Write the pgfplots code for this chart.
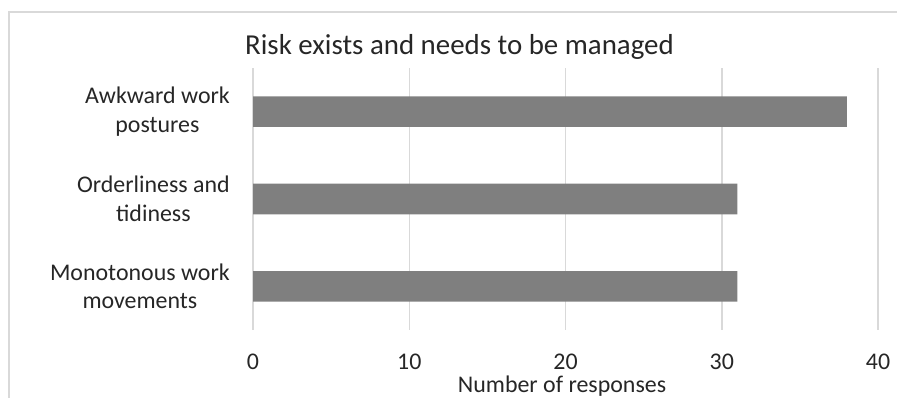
\documentclass[border=0pt]{standalone}
\usepackage{pgfplots}
\pgfplotsset{compat=1.18}
\usepackage{fontspec}
\setmainfont{Carlito}
\definecolor{barcol}{HTML}{7F7F7F}
\definecolor{gridcol}{HTML}{D9D9D9}
\definecolor{txtcol}{HTML}{262626}
\begin{document}
\begin{tikzpicture}
\useasboundingbox (0,0) rectangle (897bp,398bp);
\draw[gridcol, line width=1.3bp] (9bp,-10bp) -- (9bp,386bp) -- (910bp,386bp);
\coordinate (A) at (253bp,68bp);
\begin{axis}[
  at={(A)}, anchor=south west,
  scale only axis, width=625bp, height=262bp,
  xmin=0, xmax=40, ymin=-0.5, ymax=2.5,
  y dir=reverse,
  xbar, bar width=0.35, bar shift=0pt,
  xtick={0,10,20,30,40},
  ytick={0,1,2},
  yticklabels={{Awkward work\\postures},{Orderliness and\\tidiness},{Monotonous work\\movements}},
  /pgf/number format/assume math mode=true,
  yticklabel style={align=center, anchor=east, inner sep=0pt, xshift=-23bp,
    font=\fontsize{24}{29}\selectfont, text=txtcol},
  xticklabel style={anchor=base, inner sep=0pt, yshift=-39.5bp,
    font=\fontsize{24}{29}\selectfont, text=txtcol},
  axis line style={draw=none},
  major tick length=0pt,
  xmajorgrids, ymajorgrids=false,
  major grid style={gridcol, line width=1.5bp},
  title={Risk exists and needs to be managed},
  title style={at={(axis description cs:0.3304,1)}, anchor=base, inner sep=0pt,
    yshift=7.3bp, font=\fontsize{29}{34}\selectfont, text=txtcol},
  xlabel={Number of responses},
  xlabel style={at={(axis description cs:0.4944,0)}, anchor=base, inner sep=0pt,
    yshift=-62.5bp, font=\fontsize{24}{29}\selectfont, text=txtcol},
]
\addplot[fill=barcol, draw=none] coordinates {(38,0) (31,1) (31,2)};
\end{axis}
\end{tikzpicture}
\end{document}
